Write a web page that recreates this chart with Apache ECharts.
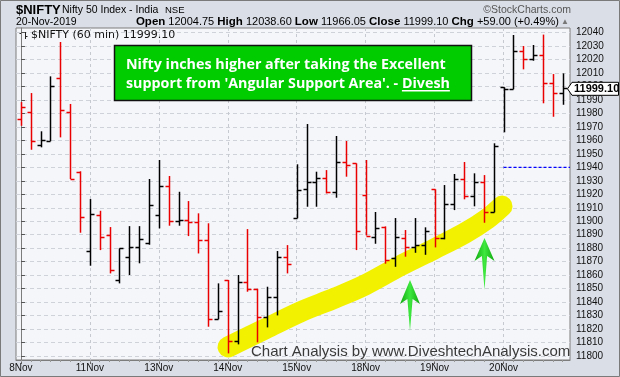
<!DOCTYPE html>
<html><head><meta charset="utf-8">
<script src="https://cdn.jsdelivr.net/npm/echarts@6.0.0/dist/echarts.min.js"></script>
<style>html,body{margin:0;padding:0;background:#dadee6}#c{width:620px;height:377px}</style>
</head><body><div id="c"></div>
<script>
// ---- data (60-min OHLC bars, 7 per session) ----
const dayLabels = ['8Nov','11Nov','13Nov','14Nov','15Nov','18Nov','19Nov','20Nov'];
const dayStartIndex = [0,7,14,21,28,35,42,49];
const opens  = [11976.1,11980.9,11956.8,11959.4,12006.4,11980.9,11936.6,
                11877.7,11904.4,11889.8,11856.4,11873.2,11881.1,11883.5,
                11904.4,11926.4,11899.9,11900.9,11899.2,11886.1,11827.2,
                11856.4,11811.1,11855.1,11849.9,11829.1,11843.7,11873.7,
                11902.2,11923.7,11929.1,11931.9,11921.5,11943.8,11943.0,
                11919.3,11888.1,11895.5,11872.5,11887.3,11880.9,11882.1,
                11923.7,11887.3,11912.8,11931.1,11918.5,11929.4,11907.1,
                11999.5,11998.0,12026.6,12020.2,12023.4,12002.9,11995.4];
const highs  = [11988.5,11995.2,11966.8,12007.6,12033.1,11987.1,11937.1,
                11916.5,11907.8,11895.7,11879.9,11896.4,11896.4,11931.4,
                11945.5,11933.6,11921.9,11915.0,11905.9,11898.5,11853.9,
                11856.4,11860.1,11894.2,11849.9,11851.4,11877.9,11882.3,
                11942.3,11972.2,11936.8,11938.0,11963.3,11959.6,11943.0,
                11945.5,11906.9,11896.2,11902.4,11893.5,11902.4,11895.5,
                11923.7,11926.9,11935.1,11944.0,11935.6,11934.3,11957.9,
                11999.5,12038.3,12030.1,12030.9,12038.6,12009.3,12009.8];
const lows   = [11970.9,11953.1,11954.9,11959.4,11962.3,11931.4,11891.5,
                11867.0,11878.6,11861.3,11853.9,11860.1,11868.8,11882.6,
                11894.7,11896.7,11896.7,11889.0,11876.1,11821.7,11827.2,
                11801.9,11808.6,11847.7,11810.1,11821.2,11830.1,11861.3,
                11902.2,11910.8,11910.8,11920.7,11917.5,11933.1,11878.6,
                11889.4,11883.3,11868.5,11866.2,11873.7,11876.6,11875.1,
                11880.6,11886.6,11908.3,11916.3,11911.1,11898.9,11906.6,
                11966.05,11998.0,12012.8,12019.2,11987.6,11977.6,11986.5];
const closes = [11984.6,11959.4,11960.1,12000.2,11982.8,11931.4,11903.1,
                11905.1,11888.5,11863.6,11879.9,11881.1,11887.0,11911.8,
                11925.9,11899.9,11900.9,11899.2,11886.1,11827.2,11833.6,
                11811.1,11855.1,11849.9,11829.1,11843.7,11873.7,11868.0,
                11923.2,11929.1,11931.9,11921.5,11943.8,11941.5,11892.5,
                11889.4,11894.7,11871.2,11888.1,11880.9,11882.1,11892.5,
                11887.3,11912.8,11931.1,11918.5,11929.4,11907.1,11955.9,
                11998.0,12026.6,12020.2,12023.4,12002.9,11995.4,11999.1];
const priorClose = 12012;      // close before the first bar
const prevDayClose = 11940;    // blue dashed reference
const prevDayLine = [[49, prevDayClose], [55.75, prevDayClose]];
const lastPrice = 11999.10;
const yTickValues = [11800,11810,11820,11830,11840,11850,11860,11870,11880,11890,11900,11910,11920,
                     11930,11940,11950,11960,11970,11980,11990,12000,12010,12020,12030,12040];
// yellow "angular support" highlighter path (bar index, price)
const highlightPath = [[21.03,11806.7],[24.78,11820.0],[28.33,11832.6],[31.89,11843.0],[34.93,11852.7],
                       [38.48,11866.8],[41.94,11879.4],[45.09,11891.3],[47.32,11901.7],[48.85,11911.3]];

const barIndex = opens.map((_, i) => i);
const ohlc = opens.map((o, i) => {
  const pc = i === 0 ? priorClose : closes[i - 1];
  return [i, o, highs[i], lows[i], closes[i], closes[i] >= pc ? 1 : 0];
});

const chart = echarts.init(document.getElementById('c'), null, {renderer: 'canvas'});
const AX = 'Liberation Sans';

const option = {
  backgroundColor: '#dadee6',
  animation: false,
  grid: {left: 16, right: 50, top: 28, bottom: 17, show: true,
         backgroundColor: '#f5f6fa', borderColor: '#7c7c7c', borderWidth: 1},
  xAxis: [{
    type: 'value', min: -0.5, max: 55.75, position: 'bottom',
    axisLine: {show: true, lineStyle: {color: '#7c7c7c'}},
    axisTick: {show: true, customValues: dayStartIndex, length: 4, lineStyle: {color: '#666'}},
    axisLabel: {customValues: dayStartIndex, margin: 3, fontSize: 10, fontFamily: AX, color: '#111',
                formatter: v => dayLabels[dayStartIndex.indexOf(v)] || ''},
    splitLine: {show: true, lineStyle: {color: '#c6c9d0', type: [3, 3], width: 1}}
  }, {
    type: 'value', min: -0.5, max: 55.75, position: 'bottom',
    axisLine: {show: false},
    axisTick: {show: true, customValues: barIndex, length: 2, lineStyle: {color: '#999'}},
    axisLabel: {show: false}, splitLine: {show: false}
  }],
  yAxis: {
    type: 'value', position: 'right', min: 11797, max: 12043.5,
    axisLine: {show: true, lineStyle: {color: '#7c7c7c'}},
    axisTick: {show: true, customValues: yTickValues, length: 4, lineStyle: {color: '#555'}},
    axisLabel: {customValues: yTickValues, margin: 6, fontSize: 10, fontFamily: AX, color: '#111',
                formatter: v => String(v)},
    splitLine: {show: true, lineStyle: {color: '#cfd2d9', type: [4, 3], width: 1}}
  },
  series: [{
    type: 'line', data: highlightPath, smooth: 0.35, symbol: 'none', z: 1, silent: true,
    lineStyle: {color: '#f2f200', width: 21, cap: 'round', join: 'round'}
  }, {
    type: 'custom', z: 3, data: ohlc,
    encode: {x: 0, y: [1, 2, 3, 4]},
    renderItem: (params, api) => {
      const i = api.value(0);
      const o = api.coord([i, api.value(1)]);
      const h = api.coord([i, api.value(2)]);
      const l = api.coord([i, api.value(3)]);
      const c = api.coord([i, api.value(4)]);
      const col = api.value(5) ? '#000000' : '#ea0000';
      const px = Math.round(h[0]) + 0.5;
      const st = {stroke: col, lineWidth: 1.5};
      const ry = y => Math.round(y) + 0.5;
      return {type: 'group', children: [
        {type: 'line', shape: {x1: px, y1: h[1], x2: px, y2: l[1]}, style: st},
        {type: 'line', shape: {x1: px - 4, y1: ry(o[1]), x2: px, y2: ry(o[1])}, style: st},
        {type: 'line', shape: {x1: px, y1: ry(c[1]), x2: px + 4, y2: ry(c[1])}, style: st}
      ]};
    }
  }, {
    type: 'line', data: prevDayLine, symbol: 'none', silent: true, z: 2,
    lineStyle: {color: '#0000ff', type: [3, 2], width: 1.2},
    emphasis: {disabled: true}
  }]
};
chart.setOption(option);

// --- annotations ---
const mctx = document.createElement('canvas').getContext('2d');
function measure(text, font) { mctx.font = font; return mctx.measureText(text).width; }
const line1 = 'Nifty inches higher after taking the Excellent';
const line2a = "support from 'Angular Support Area'. - ";
const boxSize = 14 * 320 / measure(line1, 'bold 14px "Open Sans"');
const boxFont = 'bold ' + boxSize.toFixed(2) + 'px "Open Sans"';
const ulx = 126 + measure(line2a, boxFont);
const ulw = measure('Divesh', boxFont);
const tagY = chart.convertToPixel({seriesIndex: 1}, [55, lastPrice])[1] + 1;

function T(text, x, y, font, fill, align, extra) {
  return Object.assign({type: 'text', z: 20, silent: true,
    style: Object.assign({text, x, y, font, fill, align: align || 'left', verticalAlign: 'middle',
      textAlign: align || 'left', textVerticalAlign: 'middle'}, extra || {})});
}
const arrowFill = () => new echarts.graphic.LinearGradient(0, 0, 1, 0, [
  {offset: 0, color: '#10a810'}, {offset: 0.5, color: '#3ee83e'}, {offset: 1, color: '#10a810'}]);
const graphics = [
  {type: 'rect', z: -1, silent: true, shape: {x: 0.5, y: 0.5, width: 619, height: 376},
   style: {fill: 'none', stroke: '#7a7a7a', lineWidth: 1}},
  // header
  T('$NIFTY', 16, 10, 'bold 13px Liberation Sans', '#000'),
  T('Nifty 50 Index - India', 62, 10.5, '10.5px Liberation Sans', '#000'),
  T('NSE', 165, 10.5, '9.5px Liberation Sans', '#000'),
  T('\u00a9StockCharts.com', 571, 10.5, '10.5px Liberation Sans', '#555', 'right'),
  T('20-Nov-2019', 16, 22, '10.5px Liberation Sans', '#000'),
  {type: 'text', z: 20, silent: true, style: {
    text: '{b|Open} {n|12004.75} {b|High} {n|12038.60} {b|Low} {n|11966.05} {b|Close} {n|11999.10} {b|Chg} {n|+59.00 (+0.49%)}{t| \u25b2}',
    x: 569, y: 22, align: 'right', verticalAlign: 'middle', textAlign: 'right', textVerticalAlign: 'middle',
    font: '11px Liberation Sans', fill: '#000',
    rich: {b: {font: 'bold 11.5px Liberation Sans', fill: '#000'},
           n: {font: '11px Liberation Sans', fill: '#000'},
           t: {font: '8px Liberation Sans', fill: '#777'}}}},
  // legend in plot
  {type: 'group', z: 20, silent: true, children: [
    {type: 'line', shape: {x1: 21.5, y1: 31, x2: 21.5, y2: 38}, style: {stroke: '#222', lineWidth: 1}},
    {type: 'line', shape: {x1: 19.5, y1: 33.5, x2: 21.5, y2: 33.5}, style: {stroke: '#222', lineWidth: 1}},
    {type: 'line', shape: {x1: 25.5, y1: 32, x2: 25.5, y2: 39}, style: {stroke: '#222', lineWidth: 1}},
    {type: 'line', shape: {x1: 25.5, y1: 36.5, x2: 27.5, y2: 36.5}, style: {stroke: '#222', lineWidth: 1}}
  ]},
  T('$NIFTY (60 min) 11999.10', 31, 35, '11px DejaVu Sans', '#111'),
  // green comment box
  {type: 'rect', z: 20, silent: true, shape: {x: 114.5, y: 45.5, width: 357, height: 55},
   style: {fill: '#00cc00', stroke: '#111', lineWidth: 1.5}},
  T(line1, 126, 64.5, boxFont, '#fff'),
  T(line2a + 'Divesh', 126, 83.5, boxFont, '#fff'),
  {type: 'rect', z: 21, silent: true, shape: {x: ulx, y: 90, width: ulw, height: 1.5}, style: {fill: '#fff'}},
  // arrows
  {type: 'polygon', z: 20, silent: true,
   shape: {points: [[410, 280], [420, 304], [412.6, 299], [410, 331], [407.4, 299], [400, 304]]},
   style: {fill: arrowFill()}},
  {type: 'polygon', z: 20, silent: true,
   shape: {points: [[484.5, 238], [494.5, 261], [487.1, 256], [484.5, 290], [481.9, 256], [474.5, 261]]},
   style: {fill: arrowFill()}},
  // watermark
  T('Chart Analysis by www.DiveshtechAnalysis.com', 251, 351.5, '15px Liberation Sans', '#3a3a3a'),
  // last price tag
  {type: 'polygon', z: 20, silent: true,
   shape: {points: [[567.5, tagY], [572, tagY - 6.5], [618.5, tagY - 6.5], [618.5, tagY + 6.5], [572, tagY + 6.5]]},
   style: {fill: '#fff', stroke: '#000', lineWidth: 1}},
  T('11999.10', 574, tagY + 0.5, 'bold 11px Liberation Sans', '#000')
];
chart.setOption({graphic: graphics});
</script></body></html>
